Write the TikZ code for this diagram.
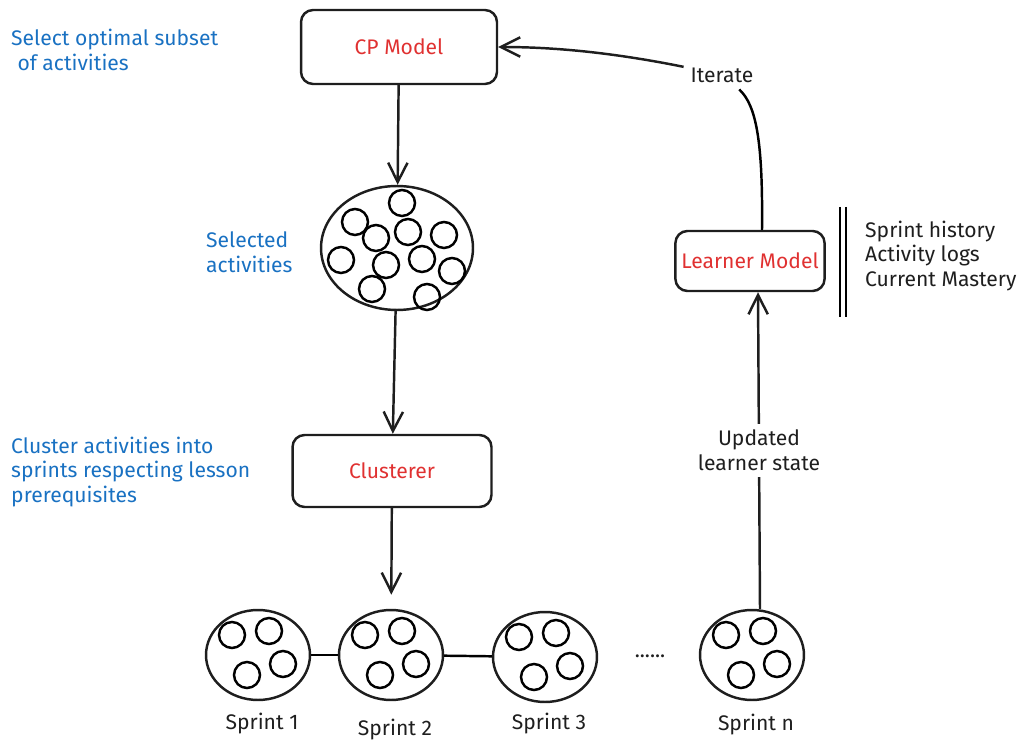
\documentclass[tikz,border=0pt]{standalone}
\usepackage{fontspec}
\setmainfont{Fira Sans}
\usetikzlibrary{arrows.meta,shapes.geometric,calc}

\definecolor{ink}{HTML}{1E1E1E}
\definecolor{skred}{HTML}{E03131}
\definecolor{skblue}{HTML}{1971C2}

\begin{document}
\begin{tikzpicture}[
        x=0.02cm, y=-0.02cm,
        line width=1.4pt,
        box/.style={
            % The shape:
            rectangle, rounded corners=0.24cm,
            % The border
            line width=1.4pt,
            draw=ink,
            % Font
            text=skred,
            font=\fontsize{12}{14}\selectfont
        },
        blob/.style={
            % The shape:
            ellipse, inner sep=0pt,
            % The border
            line width=1.4pt,
            draw=ink
        },
        note/.style={
            align=left, anchor=west, inner xsep=0pt,
            text=skblue,
            font=\fontsize{12}{14.2}\selectfont
        },
        lbl/.style={
            text=ink,
            font=\fontsize{12}{14.2}\selectfont
        },
        arr/.style={
            draw=ink,
            -{Straight Barb[length=11pt,width=11pt]}
        }]

        \useasboundingbox (0,0) rectangle (1032,753);

        % main column
        \node [box, minimum width=3.92cm, minimum height=1.48cm] (cp) at (399,47) {CP Model};
        \node [blob, minimum width=3.04cm, minimum height=2.48cm] (pool) at (397,248) {};
        \node [box, minimum width=3.98cm, minimum height=1.44cm] (clus) at (392,471) {Clusterer};

        \foreach \x/\y in {402/203, 355/222, 376/238, 408/232, 444/235, 341/260,
                           386/265, 422/259, 452/271, 372/289, 427/297}
        {
            \draw (\x,\y) circle [radius=13];
        }

        \draw [arr] (cp) -- (pool);
        \draw [arr] (pool) -- (clus);

        % sprints
        \foreach \name/\cx/\cy/\ltext/\ly in {s1/258/655/Sprint 1/724, s2/391/655/Sprint 2/730,
                                             s3/545/657/Sprint 3/724, sn/752/655/Sprint n/725}
        {
            \node [blob, minimum width=2.08cm, minimum height=1.8cm] (\name) at (\cx,\cy) {};
            \node [lbl] (\name-lbl) at (\cx+4,\ly) {\ltext};
            \foreach \dx/\dy in {-26/-20, 11/-24, -11/20, 25/9}
                \draw (\cx+\dx,\cy+\dy) circle [radius=13];
        }

        \draw (s1) -- (s2);
        \draw (s2) -- (s3);
        \node [lbl] (dots) at (650,656) {......};

        \draw [arr, shorten >=8pt] (clus) -- (s2);

        % learner side
        \node [box, minimum width=2.92cm, minimum height=1.2cm] (lm) at (750,261) {Learner Model};
        \draw [arr] ($(sn.north)+(8,0)$) -- node [lbl, fill=white, align=center] (upd) {Updated\\learner state} ($(lm.south)+(8,0)$);

        \node [lbl] (iter) at (722,75) {Iterate};
        \draw ($(lm.north)+(12,0)$) .. controls (763,140) and (756,105) .. (iter.-40);
        \draw [arr] (iter.168) .. controls (620,54) and (560,47) .. (cp.east);

        \draw (840,207) -- (840,317);
        \draw (846,207) -- (846,317);
        \node [lbl, align=left, anchor=west, inner xsep=0pt] (hist) at (864,256) {Sprint history\\Activity logs\\Current Mastery};

        % notes
        \node [note] (n1) at (10,49.5) {Select optimal subset\\\hspace{0.3em}of activities};
        \node [note] (n2) at (205,252.5) {Selected\\activities};
        \node [note] (n3) at (10,472) {Cluster activities into\\sprints respecting lesson\\prerequisites};

    \end{tikzpicture}
\end{document}
